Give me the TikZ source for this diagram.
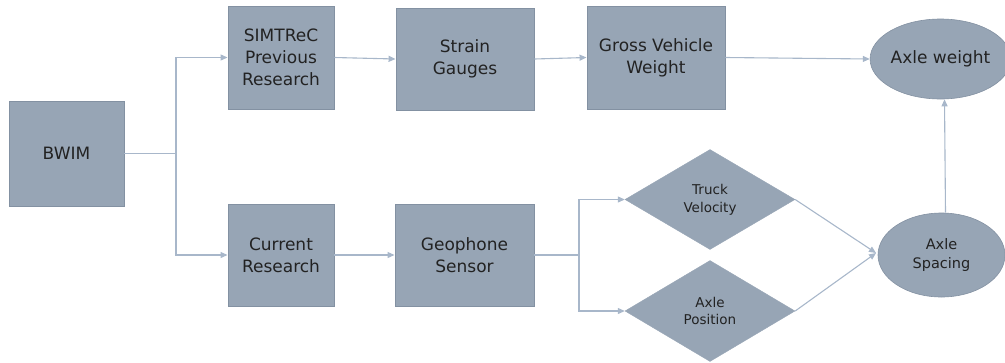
\documentclass[tikz,border=0pt]{standalone}
\usepackage{fontspec}
\setmainfont{DejaVu Sans}
\usetikzlibrary{shapes.geometric,arrows.meta,calc}
\definecolor{boxfill}{HTML}{97A5B5}
\definecolor{boxdraw}{HTML}{8391A2}
\definecolor{linec}{HTML}{A8B7CA}
\definecolor{txt}{HTML}{222222}
\tikzset{
  blk/.style={draw=boxdraw, line width=0.9pt, fill=boxfill, text=txt, align=center, inner sep=0pt,
    font=\fontsize{17}{21.7}\selectfont},
  dia/.style={diamond, fill=boxfill, draw=boxfill, text=txt, align=center, inner sep=0pt,
    minimum width=170pt, minimum height=100pt, font=\fontsize{13.5}{17.7}\selectfont},
  ell/.style={ellipse, fill=boxfill, draw=boxdraw, line width=0.6pt, text=txt, align=center, inner sep=0pt},
  arr/.style={draw=linec, line width=1.1pt, -{Triangle[width=6pt,length=7pt]}},
  ln/.style={draw=linec, line width=1.1pt}
}
\begin{document}
\begin{tikzpicture}[x=1pt,y=-1pt]
\useasboundingbox (0,0) rectangle (1005,362);
\node[blk, minimum width=115pt, minimum height=105pt] (bwim) at (66.5,153.5) {BWIM};
\node[blk, minimum width=106pt, minimum height=103pt] (sim) at (281,57.5) {SIMTReC\\Previous\\Research};
\node[blk, minimum width=138pt, minimum height=102pt] (sg) at (465,59) {Strain\\Gauges};
\node[blk, minimum width=138pt, minimum height=103pt] (gvw) at (656,57.5) {Gross Vehicle\\Weight};
\node[blk, minimum width=106pt, minimum height=102pt] (cur) at (281,255) {Current\\Research};
\node[blk, minimum width=139pt, minimum height=102pt] (geo) at (464.5,255) {Geophone\\Sensor};
\node[dia] (tv) at (710,199.5) {Truck\\Velocity};
\node[dia, minimum height=101pt] (ap) at (710,311) {Axle\\Position};
\node[ell, minimum width=129pt, minimum height=80pt, font=\fontsize{17}{21.7}\selectfont] (aw) at (940.5,59) {Axle weight};
\node[ell, minimum width=127pt, minimum height=84pt, font=\fontsize{14.5}{19}\selectfont] (as) at (941.5,255) {Axle\\Spacing};
\coordinate (j1) at (176,153.5);
\coordinate (j2) at (579,255);
\coordinate (asin) at (876,253);
\draw[ln] (bwim.east) -- (j1);
\draw[arr] (j1) |- (sim.west);
\draw[arr] (j1) |- (cur.west);
\draw[arr] (sim.east) -- (sg.west);
\draw[arr] (sg.east) -- (gvw.west);
\draw[arr] (gvw.east) -- (aw.west);
\draw[arr] (cur.east) -- (geo.west);
\draw[ln] (geo.east) -- (j2);
\draw[arr] (j2) |- (tv.west);
\draw[arr] (j2) |- (ap.west);
\draw[arr] (tv.east) -- (asin);
\draw[arr] (ap.east) -- (asin);
\draw[arr] ([xshift=4pt]as.north) -- ([xshift=4pt]aw.south);
\end{tikzpicture}
\end{document}
